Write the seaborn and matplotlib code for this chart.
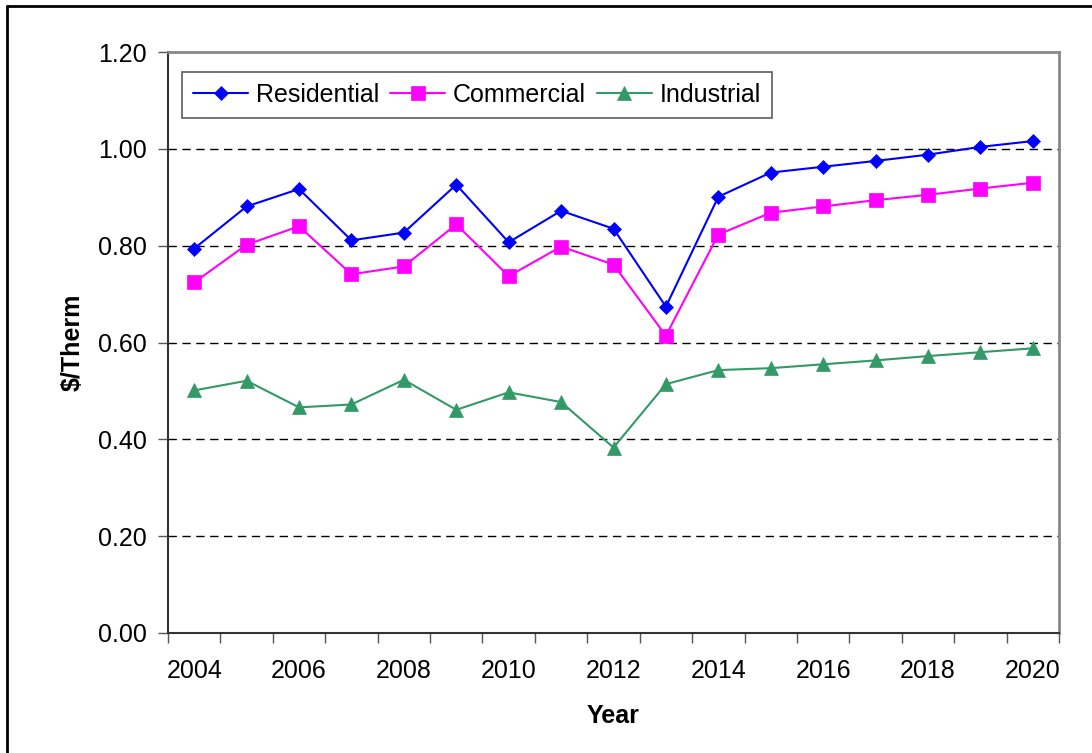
import numpy as np
import pandas as pd
import matplotlib
matplotlib.use("Agg")
import matplotlib.pyplot as plt
from matplotlib.lines import Line2D
from matplotlib.ticker import FixedLocator
import seaborn as sns

# --- dados ---
years = list(range(2004, 2021))
residential = [0.794, 0.881, 0.917, 0.811, 0.827, 0.926, 0.807, 0.872, 0.835,
               0.674, 0.901, 0.951, 0.963, 0.975, 0.988, 1.004, 1.016]
commercial = [0.724, 0.802, 0.840, 0.741, 0.757, 0.844, 0.737, 0.798, 0.761,
              0.614, 0.823, 0.868, 0.881, 0.894, 0.905, 0.918, 0.930]
industrial = [0.501, 0.521, 0.466, 0.472, 0.523, 0.461, 0.497, 0.477, 0.383,
              0.514, 0.543, 0.547, 0.555, 0.563, 0.572, 0.580, 0.588]
y_ticks = [0.0, 0.2, 0.4, 0.6, 0.8, 1.0, 1.2]

series = [
    ("Residential", residential, "#0000FF", "D", 7),
    ("Commercial", commercial, "#FF00FF", "s", 9.5),
    ("Industrial", industrial, "#339966", "^", 10),
]

sns.set_theme(style="white")
plt.rcParams["font.family"] = ["Liberation Sans", "DejaVu Sans"]
plt.rcParams["text.color"] = "black"
plt.rcParams["axes.labelcolor"] = "black"
plt.rcParams["xtick.color"] = "black"
plt.rcParams["ytick.color"] = "black"

fig = plt.figure(figsize=(10.92, 7.53), dpi=100)
ax = fig.add_axes([168 / 1092, 120 / 753, 891 / 1092, 581 / 753])

idx = np.arange(len(years))
for name, vals, color, marker, ms in series:
    sns.lineplot(x=idx, y=vals, ax=ax, color=color, marker=marker,
                 markersize=ms, markeredgecolor=color, markeredgewidth=0.5,
                 linewidth=1.5, label=name)

# eixos
ax.set_xlim(-0.5, len(years) - 0.5)
ax.set_ylim(0, 1.2)
ax.set_yticks(y_ticks)
ax.set_yticklabels([f"{v:.2f}" for v in y_ticks], fontsize=18)
ax.set_xticks(idx[::2])
ax.set_xticklabels([str(y) for y in years[::2]], fontsize=18)
ax.xaxis.set_minor_locator(FixedLocator(np.arange(-0.5, len(years), 1.0)))
ax.tick_params(axis="x", which="major", length=0, pad=19)
ax.tick_params(axis="x", which="minor", length=7, width=1, color="#555555",
               direction="out", bottom=True)
ax.tick_params(axis="y", which="major", length=7, width=1, color="#555555",
               direction="out", left=True, pad=8)

for v in y_ticks[1:-1]:
    ax.axhline(v, color="black", linewidth=1, linestyle=(0, (6, 4)), zorder=0)

ax.spines["left"].set_color("#333333")
ax.spines["bottom"].set_color("#333333")
ax.spines["left"].set_linewidth(1.5)
ax.spines["bottom"].set_linewidth(1.5)
ax.spines["top"].set_color("#888888")
ax.spines["right"].set_color("#888888")
ax.spines["top"].set_linewidth(2)
ax.spines["right"].set_linewidth(2)

ax.set_xlabel("Year", fontsize=18, fontweight="bold", labelpad=15)
ax.set_ylabel("$/Therm", fontsize=18, fontweight="bold", labelpad=10)

leg = ax.legend(loc="upper left", bbox_to_anchor=(0.0157, 0.966), ncol=3,
                fontsize=18, frameon=True, fancybox=False, borderaxespad=0,
                handlelength=2.2, handletextpad=0.3, columnspacing=0.45,
                borderpad=0.45)
leg.get_frame().set_edgecolor("#333333")
leg.get_frame().set_linewidth(1.2)

# moldura externa (só esquerda e topo aparecem na imagem)
fig.add_artist(Line2D([7 / 1092, 7 / 1092], [0, 1 - 6 / 753],
                      transform=fig.transFigure, color="black", linewidth=2))
fig.add_artist(Line2D([7 / 1092, 1], [1 - 6 / 753, 1 - 6 / 753],
                      transform=fig.transFigure, color="black", linewidth=2))

fig.savefig("out.png", dpi=100, facecolor="white")
